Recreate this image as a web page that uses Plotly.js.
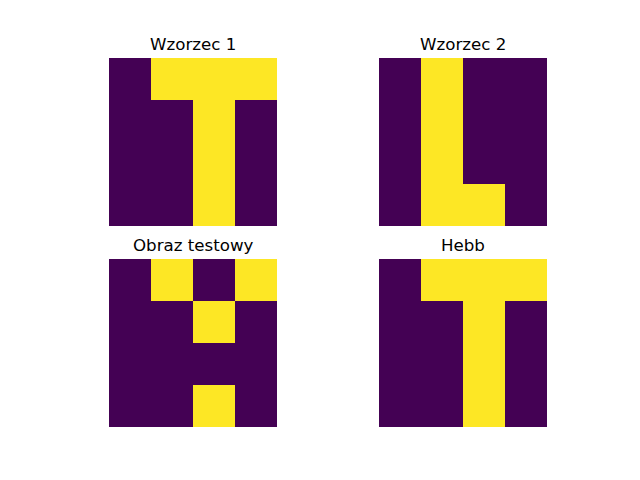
<!DOCTYPE html>
<html>
<head>
<meta charset="utf-8">
<script src="https://cdn.plot.ly/plotly-3.0.1.min.js"></script>
<style>html,body{margin:0;padding:0;background:#fff;}#chart{width:640px;height:480px;}</style>
</head>
<body>
<div id="chart"></div>
<script>
const titles = ["Wzorzec 1", "Wzorzec 2", "Obraz testowy", "Hebb"];
const wzorzec1 = [[0,1,1,1],[0,0,1,0],[0,0,1,0],[0,0,1,0]];
const wzorzec2 = [[0,1,0,0],[0,1,0,0],[0,1,0,0],[0,1,1,0]];
const obrazTestowy = [[0,1,0,1],[0,0,1,0],[0,0,0,0],[0,0,1,0]];
const hebb = [[0,1,1,1],[0,0,1,0],[0,0,1,0],[0,0,1,0]];

const mats = [wzorzec1, wzorzec2, obrazTestowy, hebb];
const W = 640, H = 480;
const xDoms = [[109/W, 277/W], [379/W, 547/W]];
const yDoms = [[1-226/H, 1-58/H], [1-427/H, 1-259/H]];
const viridis = [[0,'#440154'],[0.111,'#482878'],[0.222,'#3e4989'],[0.333,'#31688e'],[0.444,'#26828e'],[0.555,'#1f9e89'],[0.666,'#35b779'],[0.777,'#6ece58'],[0.888,'#b5de2b'],[1,'#fde725']];

const data = [], layout = {width:W, height:H, margin:{l:0,r:0,t:0,b:0}, paper_bgcolor:'#fff', plot_bgcolor:'#fff', showlegend:false, annotations:[]};
mats.forEach((z, i) => {
  const r = Math.floor(i/2), c = i%2;
  const xa = i === 0 ? 'x' : 'x' + (i+1), ya = i === 0 ? 'y' : 'y' + (i+1);
  data.push({type:'heatmap', z:z, xaxis:xa, yaxis:ya, colorscale:viridis, zmin:0, zmax:1, showscale:false, hoverinfo:'skip'});
  const axx = i === 0 ? 'xaxis' : 'xaxis' + (i+1), axy = i === 0 ? 'yaxis' : 'yaxis' + (i+1);
  layout[axx] = {domain:xDoms[c], range:[-0.5,3.5], visible:false, anchor:ya, fixedrange:true};
  layout[axy] = {domain:yDoms[r], range:[3.5,-0.5], visible:false, anchor:xa, fixedrange:true};
  layout.annotations.push({text:titles[i], xref:'paper', yref:'paper', x:(xDoms[c][0]+xDoms[c][1])/2, y:yDoms[r][1], xanchor:'center', yanchor:'bottom', yshift:2, showarrow:false, font:{family:'DejaVu Sans', size:16.67, color:'#000'}});
});
Plotly.newPlot('chart', data, layout, {staticPlot:true});
</script>
</body>
</html>
